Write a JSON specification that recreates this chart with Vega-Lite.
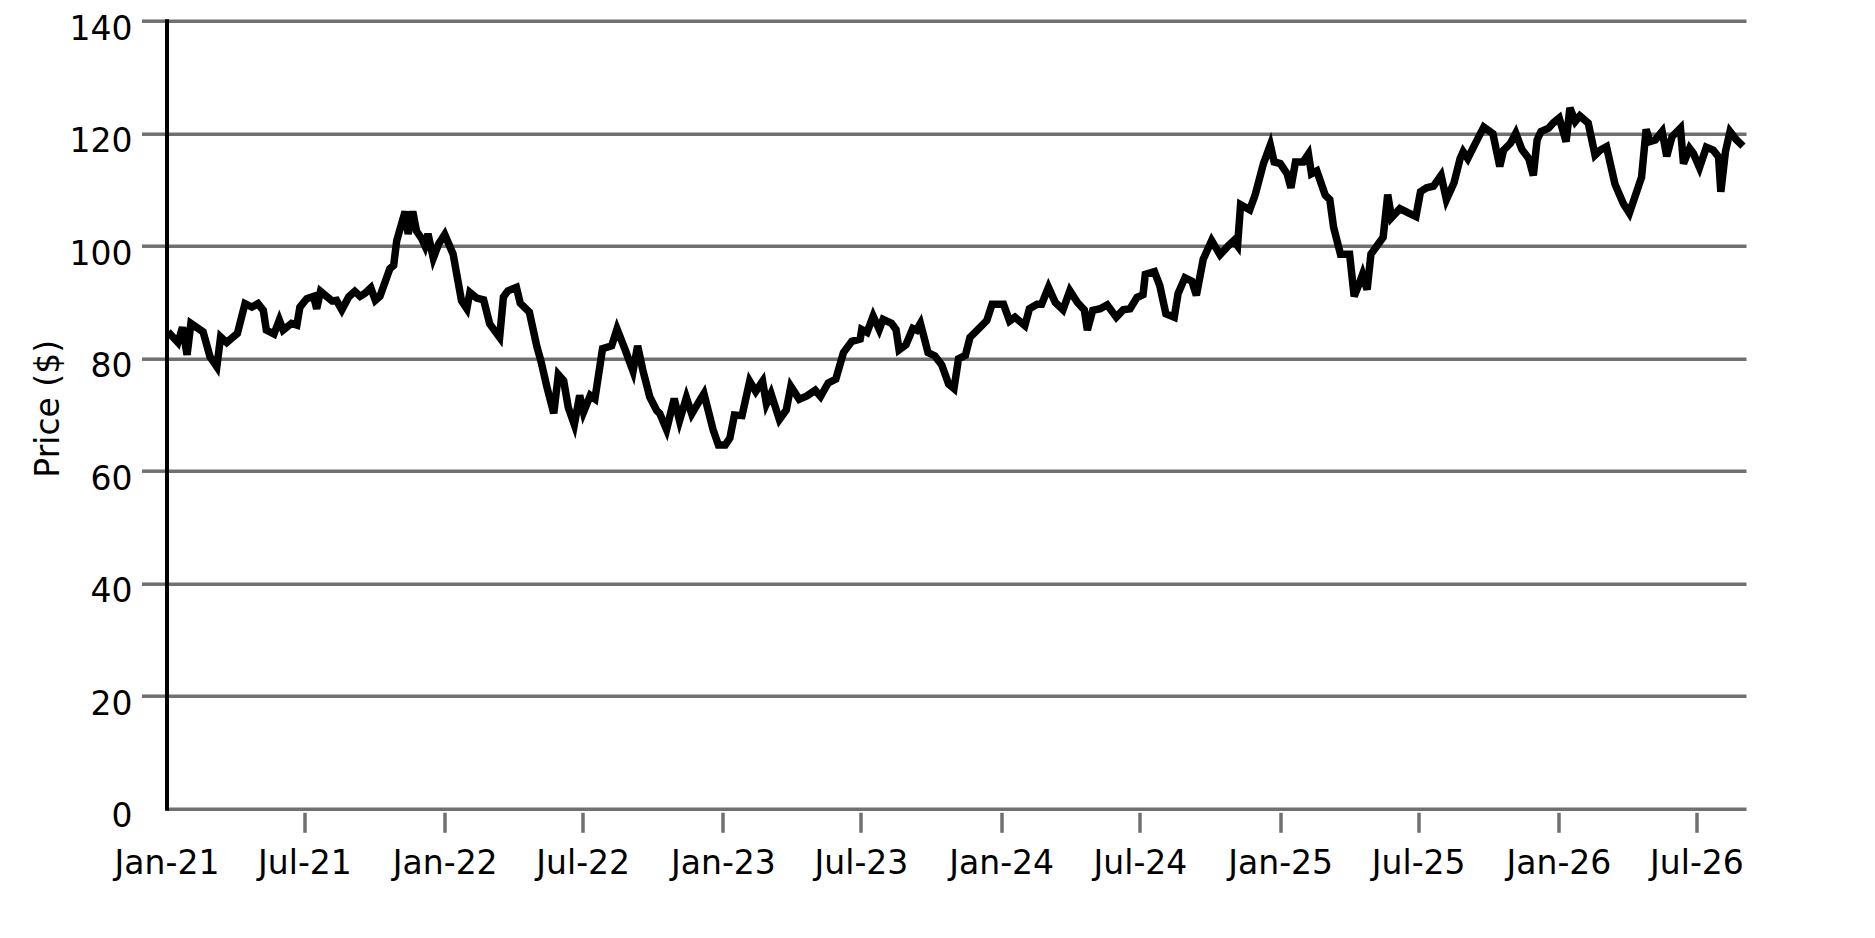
{
  "$schema": "https://vega.github.io/schema/vega-lite/v6.json",
  "autosize": {"type": "none"},
  "padding": {"left": 166.5, "top": 20.7, "right": 129, "bottom": 129.7},
  "width": 1579.5,
  "height": 787.6,
  "data": {
    "values": [
      {"date": "2021-01-03", "price": 84.7},
      {"date": "2021-01-16", "price": 82.8},
      {"date": "2021-01-22", "price": 85.5},
      {"date": "2021-01-28", "price": 80.6},
      {"date": "2021-02-02", "price": 86.2},
      {"date": "2021-02-18", "price": 84.7},
      {"date": "2021-02-27", "price": 80.3},
      {"date": "2021-03-08", "price": 78.5},
      {"date": "2021-03-13", "price": 83.8},
      {"date": "2021-03-21", "price": 82.8},
      {"date": "2021-04-04", "price": 84.4},
      {"date": "2021-04-14", "price": 89.7},
      {"date": "2021-04-23", "price": 89.1},
      {"date": "2021-05-01", "price": 89.7},
      {"date": "2021-05-08", "price": 88.5},
      {"date": "2021-05-12", "price": 85.0},
      {"date": "2021-05-22", "price": 84.3},
      {"date": "2021-05-29", "price": 86.8},
      {"date": "2021-06-03", "price": 85.0},
      {"date": "2021-06-14", "price": 86.2},
      {"date": "2021-06-21", "price": 85.9},
      {"date": "2021-06-25", "price": 89.1},
      {"date": "2021-07-04", "price": 90.6},
      {"date": "2021-07-13", "price": 91.0},
      {"date": "2021-07-17", "price": 88.8},
      {"date": "2021-07-22", "price": 91.9},
      {"date": "2021-07-30", "price": 91.0},
      {"date": "2021-08-06", "price": 90.2},
      {"date": "2021-08-12", "price": 90.3},
      {"date": "2021-08-19", "price": 88.6},
      {"date": "2021-08-28", "price": 90.9},
      {"date": "2021-09-05", "price": 91.9},
      {"date": "2021-09-12", "price": 91.0},
      {"date": "2021-09-18", "price": 91.5},
      {"date": "2021-09-26", "price": 92.5},
      {"date": "2021-10-02", "price": 90.3},
      {"date": "2021-10-08", "price": 91.0},
      {"date": "2021-10-21", "price": 95.9},
      {"date": "2021-10-26", "price": 96.5},
      {"date": "2021-10-30", "price": 100.9},
      {"date": "2021-11-10", "price": 106.1},
      {"date": "2021-11-14", "price": 102.1},
      {"date": "2021-11-20", "price": 106.1},
      {"date": "2021-11-25", "price": 102.6},
      {"date": "2021-12-02", "price": 101.2},
      {"date": "2021-12-06", "price": 100.0},
      {"date": "2021-12-10", "price": 102.1},
      {"date": "2021-12-17", "price": 97.8},
      {"date": "2021-12-24", "price": 100.3},
      {"date": "2022-01-01", "price": 102.0},
      {"date": "2022-01-12", "price": 98.5},
      {"date": "2022-01-23", "price": 90.2},
      {"date": "2022-01-30", "price": 88.8},
      {"date": "2022-02-03", "price": 91.7},
      {"date": "2022-02-12", "price": 90.7},
      {"date": "2022-02-21", "price": 90.4},
      {"date": "2022-03-01", "price": 86.1},
      {"date": "2022-03-14", "price": 83.7},
      {"date": "2022-03-19", "price": 90.9},
      {"date": "2022-03-25", "price": 92.0},
      {"date": "2022-04-05", "price": 92.6},
      {"date": "2022-04-10", "price": 89.8},
      {"date": "2022-04-22", "price": 88.2},
      {"date": "2022-05-02", "price": 82.0},
      {"date": "2022-05-07", "price": 79.6},
      {"date": "2022-05-15", "price": 74.9},
      {"date": "2022-05-24", "price": 70.2},
      {"date": "2022-05-30", "price": 77.1},
      {"date": "2022-06-06", "price": 76.0},
      {"date": "2022-06-12", "price": 71.3},
      {"date": "2022-06-20", "price": 68.2},
      {"date": "2022-06-27", "price": 73.4},
      {"date": "2022-07-02", "price": 70.4},
      {"date": "2022-07-11", "price": 73.4},
      {"date": "2022-07-17", "price": 72.8},
      {"date": "2022-07-27", "price": 81.7},
      {"date": "2022-08-08", "price": 82.2},
      {"date": "2022-08-15", "price": 85.2},
      {"date": "2022-08-26", "price": 81.4},
      {"date": "2022-09-05", "price": 77.7},
      {"date": "2022-09-11", "price": 82.2},
      {"date": "2022-09-18", "price": 77.8},
      {"date": "2022-09-27", "price": 73.1},
      {"date": "2022-10-06", "price": 70.7},
      {"date": "2022-10-10", "price": 70.2},
      {"date": "2022-10-19", "price": 67.3},
      {"date": "2022-10-29", "price": 72.8},
      {"date": "2022-11-05", "price": 68.9},
      {"date": "2022-11-14", "price": 73.0},
      {"date": "2022-11-21", "price": 70.1},
      {"date": "2022-11-28", "price": 71.7},
      {"date": "2022-12-07", "price": 73.7},
      {"date": "2022-12-19", "price": 67.3},
      {"date": "2022-12-26", "price": 64.6},
      {"date": "2023-01-04", "price": 64.6},
      {"date": "2023-01-10", "price": 65.8},
      {"date": "2023-01-16", "price": 69.9},
      {"date": "2023-01-26", "price": 69.8},
      {"date": "2023-02-05", "price": 75.9},
      {"date": "2023-02-13", "price": 74.1},
      {"date": "2023-02-22", "price": 75.9},
      {"date": "2023-02-27", "price": 71.9},
      {"date": "2023-03-05", "price": 73.7},
      {"date": "2023-03-16", "price": 69.1},
      {"date": "2023-03-25", "price": 70.8},
      {"date": "2023-03-31", "price": 75.0},
      {"date": "2023-04-11", "price": 72.7},
      {"date": "2023-04-21", "price": 73.3},
      {"date": "2023-05-02", "price": 74.3},
      {"date": "2023-05-09", "price": 73.2},
      {"date": "2023-05-19", "price": 75.6},
      {"date": "2023-05-29", "price": 76.3},
      {"date": "2023-06-08", "price": 81.0},
      {"date": "2023-06-19", "price": 83.0},
      {"date": "2023-06-30", "price": 83.4},
      {"date": "2023-07-02", "price": 85.1},
      {"date": "2023-07-09", "price": 84.6},
      {"date": "2023-07-17", "price": 87.5},
      {"date": "2023-07-25", "price": 85.1},
      {"date": "2023-07-30", "price": 86.9},
      {"date": "2023-08-10", "price": 86.2},
      {"date": "2023-08-16", "price": 85.1},
      {"date": "2023-08-20", "price": 81.5},
      {"date": "2023-08-29", "price": 82.4},
      {"date": "2023-09-07", "price": 85.3},
      {"date": "2023-09-12", "price": 85.0},
      {"date": "2023-09-17", "price": 86.2},
      {"date": "2023-09-27", "price": 81.0},
      {"date": "2023-10-06", "price": 80.4},
      {"date": "2023-10-15", "price": 78.8},
      {"date": "2023-10-24", "price": 75.4},
      {"date": "2023-10-31", "price": 74.6},
      {"date": "2023-11-06", "price": 79.9},
      {"date": "2023-11-15", "price": 80.5},
      {"date": "2023-11-21", "price": 83.7},
      {"date": "2023-11-30", "price": 84.9},
      {"date": "2023-12-13", "price": 86.7},
      {"date": "2023-12-20", "price": 89.6},
      {"date": "2024-01-04", "price": 89.6},
      {"date": "2024-01-12", "price": 86.6},
      {"date": "2024-01-19", "price": 87.3},
      {"date": "2024-02-01", "price": 85.8},
      {"date": "2024-02-07", "price": 88.8},
      {"date": "2024-02-17", "price": 89.6},
      {"date": "2024-02-23", "price": 89.6},
      {"date": "2024-03-03", "price": 92.6},
      {"date": "2024-03-12", "price": 89.9},
      {"date": "2024-03-22", "price": 88.6},
      {"date": "2024-03-31", "price": 92.0},
      {"date": "2024-04-10", "price": 89.9},
      {"date": "2024-04-19", "price": 88.6},
      {"date": "2024-04-23", "price": 85.0},
      {"date": "2024-04-30", "price": 88.5},
      {"date": "2024-05-10", "price": 88.8},
      {"date": "2024-05-19", "price": 89.5},
      {"date": "2024-05-31", "price": 87.3},
      {"date": "2024-06-09", "price": 88.6},
      {"date": "2024-06-18", "price": 88.8},
      {"date": "2024-06-27", "price": 90.8},
      {"date": "2024-07-05", "price": 91.3},
      {"date": "2024-07-08", "price": 94.9},
      {"date": "2024-07-20", "price": 95.4},
      {"date": "2024-07-27", "price": 92.9},
      {"date": "2024-08-04", "price": 87.9},
      {"date": "2024-08-15", "price": 87.3},
      {"date": "2024-08-20", "price": 91.5},
      {"date": "2024-08-29", "price": 94.3},
      {"date": "2024-09-07", "price": 93.7},
      {"date": "2024-09-13", "price": 91.2},
      {"date": "2024-09-22", "price": 97.6},
      {"date": "2024-10-03", "price": 100.9},
      {"date": "2024-10-14", "price": 98.4},
      {"date": "2024-10-25", "price": 100.0},
      {"date": "2024-11-01", "price": 100.9},
      {"date": "2024-11-06", "price": 100.0},
      {"date": "2024-11-10", "price": 107.3},
      {"date": "2024-11-22", "price": 106.4},
      {"date": "2024-11-29", "price": 109.0},
      {"date": "2024-12-10", "price": 114.6},
      {"date": "2024-12-19", "price": 117.9},
      {"date": "2024-12-24", "price": 114.9},
      {"date": "2025-01-01", "price": 114.6},
      {"date": "2025-01-10", "price": 112.8},
      {"date": "2025-01-15", "price": 110.3},
      {"date": "2025-01-21", "price": 114.9},
      {"date": "2025-01-31", "price": 114.9},
      {"date": "2025-02-07", "price": 116.3},
      {"date": "2025-02-11", "price": 112.8},
      {"date": "2025-02-18", "price": 113.3},
      {"date": "2025-03-01", "price": 109.0},
      {"date": "2025-03-07", "price": 108.2},
      {"date": "2025-03-12", "price": 103.3},
      {"date": "2025-03-21", "price": 98.5},
      {"date": "2025-04-02", "price": 98.5},
      {"date": "2025-04-08", "price": 91.0},
      {"date": "2025-04-15", "price": 93.4},
      {"date": "2025-04-19", "price": 94.9},
      {"date": "2025-04-25", "price": 92.2},
      {"date": "2025-04-30", "price": 98.5},
      {"date": "2025-05-08", "price": 100.0},
      {"date": "2025-05-16", "price": 101.5},
      {"date": "2025-05-22", "price": 109.1},
      {"date": "2025-05-27", "price": 105.0},
      {"date": "2025-06-07", "price": 106.6},
      {"date": "2025-06-20", "price": 105.7},
      {"date": "2025-06-28", "price": 105.2},
      {"date": "2025-07-04", "price": 109.6},
      {"date": "2025-07-12", "price": 110.3},
      {"date": "2025-07-21", "price": 110.6},
      {"date": "2025-07-31", "price": 112.5},
      {"date": "2025-08-07", "price": 108.2},
      {"date": "2025-08-17", "price": 111.2},
      {"date": "2025-08-25", "price": 115.5},
      {"date": "2025-08-29", "price": 116.7},
      {"date": "2025-09-04", "price": 115.5},
      {"date": "2025-09-14", "price": 118.2},
      {"date": "2025-09-25", "price": 121.1},
      {"date": "2025-10-07", "price": 119.9},
      {"date": "2025-10-16", "price": 114.1},
      {"date": "2025-10-21", "price": 117.0},
      {"date": "2025-10-30", "price": 118.2},
      {"date": "2025-11-06", "price": 120.0},
      {"date": "2025-11-14", "price": 117.1},
      {"date": "2025-11-23", "price": 115.5},
      {"date": "2025-11-29", "price": 112.5},
      {"date": "2025-12-04", "price": 118.8},
      {"date": "2025-12-09", "price": 120.3},
      {"date": "2025-12-19", "price": 120.9},
      {"date": "2025-12-25", "price": 121.8},
      {"date": "2026-01-02", "price": 122.7},
      {"date": "2026-01-11", "price": 118.5},
      {"date": "2026-01-16", "price": 124.5},
      {"date": "2026-01-23", "price": 122.1},
      {"date": "2026-01-29", "price": 123.1},
      {"date": "2026-02-09", "price": 121.8},
      {"date": "2026-02-18", "price": 116.1},
      {"date": "2026-02-25", "price": 117.0},
      {"date": "2026-03-05", "price": 117.6},
      {"date": "2026-03-16", "price": 111.0},
      {"date": "2026-03-27", "price": 107.5},
      {"date": "2026-04-04", "price": 105.8},
      {"date": "2026-04-20", "price": 112.2},
      {"date": "2026-04-26", "price": 120.7},
      {"date": "2026-05-01", "price": 118.5},
      {"date": "2026-05-08", "price": 118.8},
      {"date": "2026-05-17", "price": 120.3},
      {"date": "2026-05-23", "price": 115.9},
      {"date": "2026-05-30", "price": 119.4},
      {"date": "2026-06-10", "price": 120.9},
      {"date": "2026-06-14", "price": 114.6},
      {"date": "2026-06-22", "price": 117.3},
      {"date": "2026-06-27", "price": 116.4},
      {"date": "2026-07-05", "price": 113.9},
      {"date": "2026-07-14", "price": 117.5},
      {"date": "2026-07-23", "price": 117.0},
      {"date": "2026-07-30", "price": 115.8},
      {"date": "2026-08-02", "price": 109.6},
      {"date": "2026-08-08", "price": 116.7},
      {"date": "2026-08-14", "price": 120.3},
      {"date": "2026-08-22", "price": 118.9},
      {"date": "2026-08-31", "price": 117.7}
    ]
  },
  "encoding": {
    "x": {
      "field": "date",
      "type": "temporal",
      "scale": {
        "type": "utc",
        "domain": [
          {"year": 2021, "month": 1, "date": 1, "utc": true},
          {"year": 2026, "month": 9, "date": 4, "utc": true}
        ]
      },
      "axis": {
        "title": null,
        "format": "%b-%y",
        "tickCount": {"interval": "month", "step": 6},
        "grid": false,
        "domain": false,
        "offset": 4,
        "tickColor": "#707070",
        "tickWidth": 3.5,
        "tickSize": 20,
        "tickOpacity": {"condition": {"test": "datum.value < utc(2021, 0, 15)", "value": 0}, "value": 1},
        "labelPadding": 15,
        "labelFlush": false,
        "labelOverlap": false
      }
    },
    "y": {
      "field": "price",
      "type": "quantitative",
      "scale": {"domain": [0, 140], "nice": false, "zero": true},
      "axis": {
        "title": "Price ($)",
        "values": [0, 20, 40, 60, 80, 100, 120, 140],
        "grid": true,
        "gridColor": "#707070",
        "gridWidth": 3.5,
        "domainColor": "black",
        "domainWidth": 4,
        "domainCap": "square",
        "tickColor": "#707070",
        "tickWidth": 3.5,
        "tickSize": 25,
        "tickOpacity": {"condition": {"test": "datum.value == 0", "value": 0}, "value": 1},
        "labelPadding": 9.5,
        "labelBaseline": "middle",
        "labelOffset": 8.5,
        "labelOverlap": false,
        "titleX": -118,
        "titleY": 387.6,
        "titleAlign": "center",
        "titleBaseline": "middle",
        "titleAngle": -90
      }
    }
  },
  "layer": [
    {
      "mark": {"type": "line", "color": "black", "strokeWidth": 7.5}
    },
    {
      "data": {"values": [{}]},
      "mark": {"type": "rule", "color": "black", "strokeWidth": 4},
      "encoding": {"x": null, "y": {"datum": 0, "type": "quantitative"}}
    }
  ],
  "config": {
    "view": {"stroke": null},
    "axis": {
      "labelFont": "DejaVu Sans",
      "titleFont": "DejaVu Sans",
      "labelFontSize": 33,
      "titleFontSize": 33,
      "labelColor": "black",
      "titleColor": "black",
      "titleFontWeight": "normal"
    }
  }
}
